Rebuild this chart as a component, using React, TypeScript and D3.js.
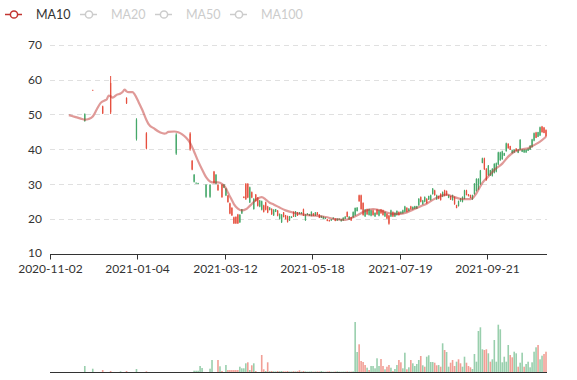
import React from 'react';
import * as d3 from 'd3';

const N_DAYS = 250;
const tickIdx = [0, 44, 88, 132, 176, 220];
const tickLabels = ['2020-11-02', '2021-01-04', '2021-03-12', '2021-05-18', '2021-07-19', '2021-09-21'];
const yTicks = [10, 20, 30, 40, 50, 60, 70];
const legendNames = ['MA10', 'MA20', 'MA50', 'MA100'];
const legendActive = [true, false, false, false];

// [dayIndex, open, close, low, high]
const candles: [number, number, number, number, number][] = [
  [17, 50.1, 48.1, 47.9, 50.3], [21, 57.0, 57.0, 56.95, 57.05], [26, 50.3, 52.3, 50.1, 52.5],
  [30, 50.6, 59.0, 50.1, 61.0], [38, 53.2, 54.7, 53.0, 54.9], [43, 48.5, 43.0, 42.5, 48.9],
  [48, 40.3, 44.6, 40.0, 44.9], [63, 44.2, 38.8, 38.4, 44.6], [70, 40.0, 44.5, 39.6, 44.9],
  [71, 34.2, 36.7, 34.0, 36.9], [72, 32.7, 30.7, 30.5, 32.9], [73, 30.4, 30.3, 30.2, 30.5],
  [74, 30.3, 30.2, 30.1, 30.4], [78, 29.8, 26.4, 26.1, 30.0], [80, 29.8, 26.4, 26.1, 30.0],
  [82, 30.4, 33.6, 30.2, 33.8], [83, 32.7, 30.2, 30.0, 32.9], [84, 28.3, 29.8, 28.1, 30.0],
  [86, 26.3, 29.8, 26.1, 30.0], [87, 29.9, 29.0, 28.9, 30.0], [88, 28.7, 26.8, 26.6, 28.9],
  [89, 24.9, 26.7, 24.7, 26.9], [90, 21.6, 24.5, 21.4, 24.7], [91, 21.1, 23.2, 20.9, 23.4],
  [92, 18.8, 20.5, 18.6, 20.7], [93, 18.8, 20.6, 18.6, 20.8], [94, 18.8, 21.3, 18.6, 21.5],
  [95, 21.2, 19.1, 18.9, 21.4], [96, 22.8, 21.6, 21.5, 22.9], [97, 26.1, 26.4, 26.0, 26.5],
  [98, 25.7, 30.1, 25.5, 30.3], [99, 26.2, 30.1, 26.0, 30.3], [100, 29.1, 24.8, 24.6, 29.3],
  [101, 26.2, 27.7, 26.0, 27.9], [102, 25.8, 22.9, 22.7, 26.0], [103, 25.2, 27.0, 25.0, 27.2],
  [104, 23.8, 26.1, 23.6, 26.3], [105, 25.3, 23.6, 23.4, 25.5], [106, 25.1, 22.7, 22.5, 25.3],
  [107, 22.1, 23.9, 21.9, 24.1], [108, 22.7, 24.8, 22.5, 25.0], [109, 21.9, 23.6, 21.7, 23.8],
  [110, 23.3, 22.6, 22.5, 23.4], [111, 21.4, 22.9, 21.2, 23.1], [112, 22.7, 21.1, 20.9, 22.8],
  [113, 22.8, 22.1, 22.0, 22.9], [114, 21.0, 22.4, 20.8, 22.6], [115, 21.5, 20.1, 19.9, 21.6],
  [116, 21.3, 19.1, 18.9, 21.4], [117, 20.6, 21.9, 20.5, 22.0], [118, 20.0, 21.1, 19.9, 21.2],
  [119, 19.2, 20.8, 19.0, 21.0], [120, 20.8, 19.6, 19.5, 20.9], [121, 20.7, 20.4, 20.3, 20.8],
  [122, 20.7, 22.0, 20.6, 22.2], [123, 22.2, 20.7, 20.6, 22.3], [124, 21.0, 21.9, 20.9, 22.0],
  [125, 21.9, 21.5, 21.4, 22.0], [126, 21.9, 21.5, 21.4, 22.0], [127, 21.0, 22.8, 20.9, 23.0],
  [128, 21.3, 19.7, 19.5, 21.4], [129, 21.6, 21.3, 21.2, 21.7], [130, 21.4, 21.0, 20.9, 21.5],
  [131, 22.1, 20.9, 20.8, 22.2], [132, 21.0, 21.6, 20.9, 21.7], [133, 21.9, 21.0, 20.9, 22.0],
  [134, 21.2, 21.9, 21.1, 22.0], [135, 20.4, 21.3, 20.3, 21.4], [136, 20.9, 20.4, 20.3, 21.0],
  [137, 20.7, 20.1, 20.0, 20.8], [138, 20.4, 20.1, 20.0, 20.5], [139, 19.5, 19.9, 19.4, 20.0],
  [140, 19.4, 19.7, 19.3, 19.8], [141, 19.9, 19.6, 19.5, 20.0], [142, 20.4, 20.1, 20.0, 20.5],
  [143, 19.5, 20.1, 19.4, 20.2], [144, 20.1, 19.6, 19.5, 20.2], [145, 20.1, 19.9, 19.8, 20.2],
  [146, 19.9, 19.4, 19.3, 20.0], [147, 20.4, 19.6, 19.5, 20.5], [148, 20.7, 20.1, 20.0, 20.8],
  [149, 20.6, 22.0, 20.5, 22.2], [150, 20.7, 19.9, 19.8, 20.8], [151, 19.6, 20.5, 19.5, 20.6],
  [152, 22.0, 20.5, 20.4, 22.2], [153, 23.2, 21.2, 20.9, 23.3], [154, 23.3, 22.3, 22.2, 23.4],
  [155, 25.1, 26.8, 25.0, 27.0], [156, 22.9, 26.8, 22.7, 27.0], [157, 21.2, 24.6, 21.0, 24.8],
  [158, 22.7, 20.8, 20.6, 22.9], [159, 21.4, 22.8, 21.2, 23.0], [160, 22.8, 21.2, 21.0, 23.0],
  [161, 22.5, 21.0, 20.8, 22.7], [162, 21.2, 22.5, 21.0, 22.7], [163, 21.8, 20.8, 20.6, 21.9],
  [164, 21.4, 22.7, 21.2, 22.9], [165, 22.5, 21.0, 20.8, 22.7], [166, 21.7, 22.7, 21.5, 22.9],
  [167, 21.2, 22.5, 21.0, 22.7], [168, 22.0, 20.8, 20.6, 22.2], [169, 20.2, 21.5, 20.0, 21.7],
  [170, 18.7, 21.0, 18.4, 21.2], [171, 22.5, 20.8, 20.6, 22.7], [172, 20.8, 22.0, 20.6, 22.2],
  [173, 21.8, 20.8, 20.6, 21.9], [174, 22.3, 21.2, 21.0, 22.5], [175, 21.2, 22.0, 21.0, 22.2],
  [176, 22.1, 21.6, 21.5, 22.2], [177, 22.5, 21.7, 21.5, 22.7], [178, 23.6, 22.1, 21.9, 23.8],
  [179, 22.1, 23.2, 21.9, 23.4], [180, 23.0, 22.3, 22.2, 23.1], [181, 22.8, 23.6, 22.7, 23.8],
  [182, 23.5, 22.8, 22.7, 23.6], [183, 23.7, 23.0, 22.9, 23.8], [184, 23.7, 23.0, 22.9, 23.8],
  [185, 25.8, 24.0, 23.8, 26.0], [186, 25.0, 26.3, 24.8, 26.5], [187, 25.3, 24.3, 24.1, 25.5],
  [188, 26.3, 25.0, 24.8, 26.5], [189, 24.6, 25.8, 24.4, 26.0], [190, 26.6, 25.6, 25.5, 26.7],
  [191, 26.8, 25.5, 25.3, 27.0], [192, 28.7, 27.2, 27.0, 28.9], [193, 26.9, 28.2, 26.7, 28.4],
  [194, 26.8, 25.7, 25.5, 27.0], [195, 25.8, 26.6, 25.7, 26.7], [196, 25.5, 27.2, 25.3, 27.4],
  [197, 27.7, 26.5, 26.3, 27.9], [198, 26.7, 28.2, 26.5, 28.4], [199, 26.9, 28.0, 26.7, 28.2],
  [200, 26.9, 26.1, 26.0, 27.0], [201, 25.6, 26.6, 25.5, 26.7], [202, 26.8, 25.5, 25.3, 27.0],
  [203, 24.3, 26.3, 24.1, 26.5], [204, 23.2, 24.0, 23.1, 24.1], [205, 25.1, 23.8, 23.6, 25.3],
  [206, 25.9, 25.1, 25.0, 26.0], [207, 26.3, 25.0, 24.8, 26.5], [208, 28.2, 25.9, 25.7, 28.4],
  [209, 26.9, 28.2, 26.8, 28.4], [210, 26.6, 27.1, 26.5, 27.2], [211, 26.1, 26.9, 26.0, 27.0],
  [212, 26.8, 25.7, 25.5, 27.0], [213, 30.1, 27.2, 27.0, 30.3], [214, 31.5, 28.1, 27.9, 31.7],
  [215, 31.5, 28.6, 28.4, 31.7], [216, 33.9, 30.0, 29.8, 34.1], [217, 37.4, 36.1, 36.0, 37.6],
  [218, 34.3, 37.4, 34.1, 37.6], [219, 31.2, 34.4, 31.0, 34.6], [220, 35.3, 32.6, 32.4, 35.5],
  [221, 34.0, 32.5, 32.4, 34.1], [222, 34.4, 32.4, 32.2, 34.6], [223, 35.8, 33.3, 33.1, 36.0],
  [224, 36.0, 33.6, 33.4, 36.2], [225, 39.1, 35.7, 35.5, 39.3], [226, 39.1, 36.9, 36.7, 39.3],
  [227, 39.4, 37.2, 37.0, 39.6], [228, 38.9, 38.2, 38.1, 39.0], [229, 41.7, 39.5, 39.3, 41.9],
  [230, 40.3, 41.6, 40.2, 41.7], [231, 39.9, 40.9, 39.8, 41.0], [232, 39.7, 38.9, 38.8, 39.8],
  [233, 39.9, 39.1, 39.0, 40.0], [234, 39.6, 40.2, 39.5, 40.3], [235, 39.9, 39.0, 38.9, 40.0],
  [236, 42.7, 40.0, 39.8, 42.9], [237, 39.9, 39.3, 39.2, 40.0], [238, 39.9, 39.1, 39.0, 40.0],
  [239, 39.9, 39.1, 39.0, 40.0], [240, 40.2, 39.6, 39.5, 40.3], [241, 41.0, 39.9, 39.8, 41.2],
  [242, 42.8, 40.7, 40.5, 43.0], [243, 44.6, 42.5, 42.3, 44.8], [244, 43.3, 44.8, 43.2, 45.0],
  [245, 44.9, 43.6, 43.5, 45.0], [246, 46.3, 44.0, 43.8, 46.5], [247, 44.9, 46.5, 44.8, 46.7],
  [248, 44.7, 46.2, 44.6, 46.4], [249, 43.7, 45.5, 43.6, 45.7],
];

// [dayIndex, volume, up(1)/down(0)]
const volumes: [number, number, number][] = [
  [17, 6, 0], [21, 3.3, 0], [26, 2, 1], [30, 1, 1], [35, 0.7, 0], [38, 1, 1], [43, 3, 0], [48, 0.7, 1],
  [72, 1.3, 0], [73, 1.3, 0], [74, 1.3, 0], [75, 6, 0], [76, 4, 0], [80, 3.3, 0], [81, 12, 0],
  [84, 12, 1], [85, 5.7, 0], [86, 1, 1], [88, 7, 0], [89, 2, 1], [90, 2, 1], [91, 2, 1], [92, 2, 1],
  [93, 2, 1], [94, 2, 1], [95, 5.3, 0], [96, 3.7, 0], [97, 3.7, 0], [98, 8.7, 0], [99, 9.7, 1],
  [100, 2, 0], [101, 6.7, 1], [102, 8.7, 0], [103, 1, 1], [106, 17, 1], [107, 2.7, 1], [108, 1, 0],
  [109, 9.7, 1], [110, 0.8, 0], [111, 1, 1], [112, 0.7, 0], [113, 0.6, 0], [114, 1, 1], [115, 0.8, 0],
  [116, 1, 0], [117, 0.7, 1], [118, 0.6, 1], [119, 1, 1], [120, 0.5, 0], [121, 0.5, 0], [122, 0.8, 1],
  [123, 0.6, 0], [124, 0.8, 1], [125, 1.7, 1], [126, 0.5, 0], [127, 1, 1], [128, 0.6, 0], [129, 0.4, 0],
  [130, 0.5, 0], [131, 0.6, 0], [132, 0.4, 1], [133, 0.5, 0], [134, 0.6, 1], [135, 0.5, 1], [136, 1, 0],
  [137, 0.4, 0], [138, 0.3, 0], [139, 0.5, 1], [140, 0.7, 1], [141, 0.3, 0], [142, 0.3, 0], [143, 0.5, 1],
  [144, 0.7, 0], [145, 0.4, 0], [146, 0.3, 0], [147, 0.4, 0], [148, 0.4, 0], [149, 0.6, 1], [150, 0.4, 0],
  [151, 0.4, 1], [152, 0.6, 0],
  [153, 50, 0], [154, 20, 0], [155, 27.7, 1], [156, 11, 1], [157, 10, 1], [158, 7, 1], [159, 4.3, 0],
  [160, 2, 1], [161, 6, 0], [162, 6, 0], [163, 3.7, 0], [164, 13.7, 0], [165, 6, 0], [166, 13, 1],
  [167, 6, 1], [168, 2.7, 0], [169, 5.3, 1], [170, 7, 1], [171, 4.3, 0], [172, 1, 1], [173, 3, 0],
  [174, 7, 0], [175, 12, 1], [176, 9.7, 1], [177, 3.7, 0], [178, 19.3, 0], [179, 2.7, 1], [180, 4.7, 0],
  [181, 12, 1], [182, 8.7, 0], [183, 6, 0], [184, 8, 0], [185, 12, 0], [186, 16, 1], [187, 6.7, 0],
  [188, 5.3, 1], [189, 15.3, 0], [190, 16.7, 0], [191, 10, 0], [192, 10, 0], [193, 9.3, 1], [194, 6.7, 1],
  [195, 7, 0], [196, 5.3, 1], [197, 28.7, 0], [198, 22, 1], [199, 20, 0], [200, 5.3, 0], [201, 9.3, 1],
  [202, 12, 1], [203, 6, 1], [204, 10.3, 0], [205, 12.7, 1], [206, 8.7, 1], [207, 5.3, 0], [208, 15.3, 0],
  [209, 9.3, 1], [210, 6, 1], [211, 4.7, 1], [212, 3, 0], [213, 18, 0], [214, 10.3, 0], [215, 41, 0],
  [216, 44.7, 0], [217, 22.7, 0], [218, 22, 1], [219, 22.7, 1], [220, 18.7, 0], [221, 10.3, 1],
  [222, 12.7, 0], [223, 32, 0], [224, 10.3, 0], [225, 47.3, 0], [226, 42.7, 0], [227, 9.7, 0],
  [228, 15.3, 0], [229, 10.3, 0], [230, 27, 0], [231, 17, 1], [232, 14.7, 1], [233, 20.3, 0],
  [234, 18.7, 0], [235, 5.3, 1], [236, 9.3, 0], [237, 19.3, 0], [238, 5.3, 1], [239, 8, 0],
  [240, 10.3, 0], [241, 4.7, 0], [242, 9.7, 0], [243, 20.3, 0], [244, 24.7, 0], [245, 27, 1],
  [246, 12.7, 0], [247, 16.3, 0], [248, 18, 1], [249, 20.3, 1],
];

const maIdx = [
  9, 12, 15, 17, 19, 21, 23, 25, 27, 28, 29, 30, 31, 33, 35, 36, 37, 38, 39, 41, 42, 44, 46, 48, 49,
  52, 55, 57, 58, 59, 62, 64, 66, 68, 70, 72, 74, 76, 78, 80, 82, 84, 86, 87, 88, 89, 90, 91, 92, 94,
  96, 98, 100, 102, 104, 106, 108, 110, 112, 115, 118, 123, 128, 133, 138, 143, 148, 151, 155, 158,
  162, 165, 169, 172, 176, 179, 182, 186, 189, 192, 196, 199, 202, 206, 210, 212, 214, 217, 220, 223,
  227, 230, 233, 237, 240, 243, 246, 249,
];
const ma10 = [
  49.8, 49.3, 48.8, 48.5, 48.7, 49.4, 51.4, 53.3, 54.0, 54.3, 55.4, 55.2, 54.8, 55.6, 56.0, 56.4, 57.1,
  56.6, 56.4, 56.4, 55.8, 53.6, 51.2, 48.4, 47.3, 45.9, 44.8, 44.5, 44.6, 45.0, 45.1, 44.9, 44.3, 43.3,
  41.8, 39.3, 36.6, 34.2, 32.0, 30.8, 30.5, 30.5, 30.1, 29.6, 28.8, 27.6, 26.5, 25.4, 24.3, 23.0, 22.5,
  22.8, 23.8, 24.9, 25.9, 26.3, 25.6, 24.7, 24.2, 23.3, 22.5, 21.7, 21.2, 21.0, 20.6, 20.0, 19.8, 20.3,
  21.4, 22.3, 22.9, 22.6, 21.9, 21.5, 21.5, 21.9, 22.7, 23.7, 24.4, 25.5, 26.6, 27.0, 26.5, 25.8, 25.7,
  26.0, 27.4, 30.4, 32.2, 34.1, 35.9, 37.9, 39.3, 40.0, 40.3, 41.2, 42.2, 43.6,
];

const UP = '#e6503f';
const DOWN = '#46a86a';
const MA_COLOR = '#c23531';
const FONT = 'Lato, "Open Sans", sans-serif';

export default function App() {
  const W = 577;
  const H = 380;
  const left = 50;
  const right = 547;
  const x = d3.scaleBand<number>().domain(d3.range(N_DAYS)).range([left, right]);
  const bw = x.bandwidth();
  const cx = (i: number) => (x(i) ?? 0) + bw / 2;
  const y = d3.scaleLinear().domain([10, 70]).range([254, 44.6]);
  const yv = d3.scaleLinear().domain([0, 60]).range([372, 312]);

  const maPts = maIdx.map((d, i) => [cx(d), y(ma10[i])] as [number, number]);
  const maPath = d3.line().curve(d3.curveMonotoneX)(maPts) || '';

  const bodyW = 1.3;
  const volW = 1.6;

  return (
    <svg width={W} height={H} style={{ position: 'absolute', left: 0, top: 0, background: '#fff' }}
      fontFamily={FONT}>
      {/* legend */}
      {legendNames.map((name, i) => {
        const lx = 5 + i * 75;
        const col = legendActive[i] ? MA_COLOR : '#ccc';
        return (
          <g key={name}>
            <line x1={lx} x2={lx + 17} y1={14.5} y2={14.5} stroke={col} strokeWidth={1.5} />
            <circle cx={lx + 9} cy={14.5} r={3.6} fill="#fff" stroke={col} strokeWidth={1.5} />
            <text x={lx + 31} y={19} fontSize={12.5} fill={legendActive[i] ? '#333' : '#ccc'}>{name}</text>
          </g>
        );
      })}

      {/* grid lines */}
      {yTicks.filter((t) => t > 10).map((t) => (
        <line key={t} x1={left} x2={right} y1={Math.round(y(t)) + 0.5} y2={Math.round(y(t)) + 0.5}
          stroke="#e0e0e0" strokeDasharray="5,4" />
      ))}
      {/* y labels */}
      {yTicks.map((t) => (
        <text key={t} x={42} y={t === 10 ? y(t) + 2.5 : y(t) + 4.3} fontSize={12} fill="#333" textAnchor="end">{t}</text>
      ))}

      {/* candles */}
      {candles.map(([i, o, c, l, h]) => {
        const col = c >= o ? UP : DOWN;
        const xc = cx(i);
        const top = y(Math.max(o, c));
        const bot = y(Math.min(o, c));
        return (
          <g key={i}>
            <line x1={xc} x2={xc} y1={y(h)} y2={y(l)} stroke={col} strokeWidth={1} />
            <rect x={xc - bodyW / 2} y={top} width={bodyW} height={Math.max(0.8, bot - top)} fill={col} />
          </g>
        );
      })}

      {/* MA10 */}
      <path d={maPath} fill="none" stroke={MA_COLOR} strokeOpacity={0.5} strokeWidth={2.2} />

      {/* x axis */}
      <line x1={left} x2={right} y1={254.5} y2={254.5} stroke="#333" />
      {tickIdx.map((t, k) => {
        const tx = Math.round(x(t) ?? 0) + 0.5;
        return (
          <g key={t}>
            <line x1={tx} x2={tx} y1={254.5} y2={259.5} stroke="#333" />
            <text x={tx} y={272.5} fontSize={12} fill="#333" textAnchor="middle">{tickLabels[k]}</text>
          </g>
        );
      })}

      {/* volume */}
      {volumes.map(([i, v, up]) => (
        <rect key={i} x={cx(i) - volW / 2} y={yv(v)} width={volW} height={yv(0) - yv(v)}
          fill={up ? UP : DOWN} fillOpacity={0.55} />
      ))}
      <line x1={left} x2={right} y1={372.5} y2={372.5} stroke="#333" />
    </svg>
  );
}
